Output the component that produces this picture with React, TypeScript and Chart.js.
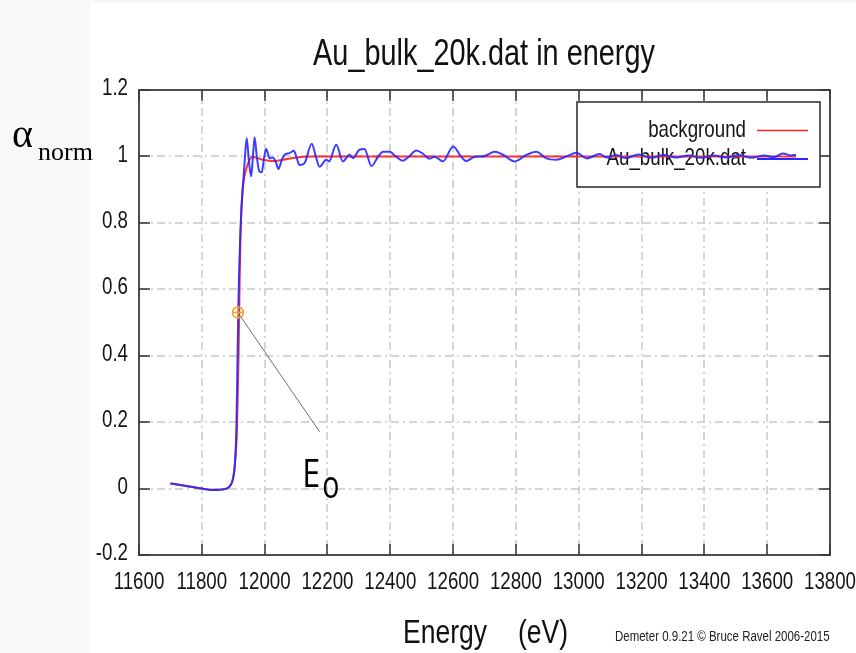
import React, { useEffect, useRef } from "react";
import { Chart, registerables } from "chart.js";

Chart.register(...registerables);

const TITLE = "Au_bulk_20k.dat in energy";
const X_TITLE_MAIN = "Energy";
const X_TITLE_UNIT = "(eV)";
const CREDIT = "Demeter 0.9.21 \u00A9 Bruce Ravel 2006-2015";
const Y_SYMBOL = "\u03B1";
const Y_SUB = "norm";
const SERIES_NAMES = ["background", "Au_bulk_20k.dat"];
const E0_LABEL = "E";
const E0_SUB = "o";

const xTicks = [11600, 11800, 12000, 12200, 12400, 12600, 12800, 13000, 13200, 13400, 13600, 13800];
const xTickLabels = ["11600", "11800", "12000", "12200", "12400", "12600", "12800", "13000", "13200", "13400", "13600", "13800"];
const yTicks = [-0.2, 0, 0.2, 0.4, 0.6, 0.8, 1, 1.2];
const yTickLabels = ["-0.2", "0", "0.2", "0.4", "0.6", "0.8", "1", "1.2"];

// Au_bulk_20k.dat (normalized mu)
const dataEnergy = [
  11700, 11750, 11800, 11835, 11870, 11888, 11898, 11905, 11910, 11913, 11916, 11919, 11922, 11925, 11930, 11936,
  11943, 11950, 11957, 11962, 11968, 11975, 11983, 11991, 11998, 12005, 12016, 12026, 12035, 12044, 12053, 12063,
  12079, 12093, 12101, 12111, 12127, 12150, 12163, 12175, 12196, 12205, 12228, 12249, 12270, 12281, 12302, 12318,
  12340, 12361, 12377, 12398, 12419, 12440, 12460, 12483, 12504, 12525, 12541, 12568, 12600, 12626, 12642, 12669,
  12695, 12733, 12759, 12796, 12834, 12865, 12897, 12929, 12961, 12993, 13025, 13067, 13089, 13120, 13150, 13190,
  13230, 13270, 13310, 13350, 13390, 13430, 13470, 13510, 13550, 13590, 13620, 13650, 13675, 13692,
];
const dataMu = [
  0.015, 0.008, 0.0, -0.004, -0.002, 0.006, 0.025, 0.07, 0.18, 0.35, 0.53, 0.66, 0.75, 0.82, 0.9, 0.98,
  1.055, 0.985, 0.94, 0.99, 1.058, 1.0, 0.955, 0.952, 0.995, 1.022, 0.994, 0.997, 0.985, 0.962, 0.985, 1.005,
  1.01, 1.017, 0.999, 0.974, 0.98, 1.038, 1.0, 0.969, 0.99, 0.985, 1.035, 0.985, 1.005, 0.995, 1.02, 1.022,
  0.971, 0.999, 1.014, 1.014, 0.999, 0.987, 1.0, 1.018, 1.008, 0.993, 0.999, 0.985, 1.03, 0.999, 0.986, 0.999,
  1.0, 1.014, 1.005, 0.985, 1.005, 1.014, 0.994, 0.99, 1.0, 1.011, 0.994, 1.007, 0.997, 1.004, 0.995, 1.006,
  0.996, 1.004, 0.997, 1.003, 0.996, 1.003, 0.997, 1.004, 0.996, 1.003, 0.998, 1.009, 1.003, 1.005,
];

// background
const bkgEnergy = [
  11700, 11750, 11800, 11835, 11870, 11888, 11898, 11905, 11912, 11917, 11920, 11923, 11926, 11930, 11941, 11962,
  11994, 12026, 12058, 12100, 12150, 12400, 12800, 13200, 13692,
];
const bkgMu = [
  0.015, 0.008, 0.0, -0.004, -0.002, 0.006, 0.025, 0.07, 0.18, 0.4, 0.6, 0.76, 0.84, 0.9, 0.96, 0.998,
  0.99, 0.986, 0.99, 0.997, 1.0, 1.0, 1.0, 1.0, 1.0,
];

// E0 marker and label anchor (data coordinates)
const e0Point = { x: 11915, y: 0.53 };
const e0LineEnd = { x: 12175, y: 0.171 };
const e0TextAnchor = { x: 12120, y: 0.006 };

const FONT = '"Liberation Sans", Arial, sans-serif';
const SQUEEZE = 0.78;

function drawText(ctx: CanvasRenderingContext2D, text: string, x: number, y: number, font: string, align: CanvasTextAlign, baseline: CanvasTextBaseline, sx: number, color: string) {
  ctx.save();
  ctx.translate(x, y);
  ctx.scale(sx, 1);
  ctx.font = font;
  ctx.textAlign = align;
  ctx.textBaseline = baseline;
  ctx.fillStyle = color;
  ctx.fillText(text, 0, 0);
  ctx.restore();
}

const framePlugin = {
  id: "frame",
  beforeDraw(chart: any) {
    const ctx = chart.ctx as CanvasRenderingContext2D;
    ctx.save();
    ctx.fillStyle = "#ffffff";
    ctx.fillRect(0, 0, chart.width, chart.height);
    ctx.fillStyle = "#f8f8f8";
    ctx.fillRect(0, 0, 90, chart.height);
    ctx.fillRect(90, 0, chart.width - 90, 3);
    ctx.restore();
  },
  beforeDatasetsDraw(chart: any) {
    const ctx = chart.ctx as CanvasRenderingContext2D;
    const xs = chart.scales.x;
    const ys = chart.scales.y;
    const { left, right, top, bottom } = chart.chartArea;
    ctx.save();
    // grid
    ctx.strokeStyle = "#c8c8c8";
    ctx.lineWidth = 1.5;
    ctx.setLineDash([8, 4, 2, 4]);
    xTicks.forEach((v) => {
      const px = Math.round(xs.getPixelForValue(v));
      if (px <= left + 1 || px >= right - 1) return;
      ctx.beginPath();
      ctx.moveTo(px, top);
      ctx.lineTo(px, bottom);
      ctx.stroke();
    });
    yTicks.forEach((v) => {
      const py = Math.round(ys.getPixelForValue(v));
      if (py <= top + 1 || py >= bottom - 1) return;
      ctx.beginPath();
      ctx.moveTo(left, py);
      ctx.lineTo(right, py);
      ctx.stroke();
    });
    ctx.setLineDash([]);
    // tick marks
    ctx.strokeStyle = "#333333";
    ctx.lineWidth = 1.5;
    const T = 11;
    xTicks.forEach((v) => {
      const px = Math.round(xs.getPixelForValue(v));
      ctx.beginPath();
      ctx.moveTo(px, bottom);
      ctx.lineTo(px, bottom - T);
      ctx.moveTo(px, top);
      ctx.lineTo(px, top + T);
      ctx.stroke();
    });
    yTicks.forEach((v) => {
      const py = Math.round(ys.getPixelForValue(v));
      ctx.beginPath();
      ctx.moveTo(left, py);
      ctx.lineTo(left + T, py);
      ctx.moveTo(right, py);
      ctx.lineTo(right - T, py);
      ctx.stroke();
    });
    // border
    ctx.strokeStyle = "#3a3a3a";
    ctx.lineWidth = 1.8;
    ctx.strokeRect(left, top, right - left, bottom - top);

    // tick labels
    xTicks.forEach((v, i) => {
      const px = xs.getPixelForValue(v);
      drawText(ctx, xTickLabels[i], px, bottom + 27, "24px " + FONT, "center", "middle", SQUEEZE, "#151515");
    });
    yTicks.forEach((v, i) => {
      const py = ys.getPixelForValue(v);
      drawText(ctx, yTickLabels[i], left - 11, py - 1.5, "24px " + FONT, "right", "middle", SQUEEZE, "#151515");
    });

    // legend box
    const bx = 577, by = 102, bw = 243, bh = 85;
    ctx.fillStyle = "#ffffff";
    ctx.fillRect(bx, by, bw, bh);
    ctx.strokeStyle = "#2a2a2a";
    ctx.lineWidth = 1.5;
    ctx.strokeRect(bx, by, bw, bh);
    drawText(ctx, SERIES_NAMES[0], 746, 130, "24px " + FONT, "right", "middle", SQUEEZE, "#151515");
    drawText(ctx, SERIES_NAMES[1], 746, 158, "24px " + FONT, "right", "middle", SQUEEZE, "#151515");
    ctx.strokeStyle = "#ff2020";
    ctx.lineWidth = 1.5;
    ctx.beginPath();
    ctx.moveTo(757, 130.5);
    ctx.lineTo(808, 130.5);
    ctx.stroke();
    ctx.strokeStyle = "#2828ff";
    ctx.lineWidth = 2;
    ctx.beginPath();
    ctx.moveTo(757, 159);
    ctx.lineTo(808, 159);
    ctx.stroke();
    ctx.restore();
  },
  afterDraw(chart: any) {
    const ctx = chart.ctx as CanvasRenderingContext2D;
    const xs = chart.scales.x;
    const ys = chart.scales.y;
    ctx.save();
    // title
    drawText(ctx, TITLE, 484, 55, "37px " + FONT, "center", "middle", SQUEEZE, "#111111");
    // x axis title
    drawText(ctx, X_TITLE_MAIN, 403, 643, "34px " + FONT, "left", "alphabetic", SQUEEZE, "#111111");
    drawText(ctx, X_TITLE_UNIT, 518, 643, "34px " + FONT, "left", "alphabetic", SQUEEZE, "#111111");
    // credit
    drawText(ctx, CREDIT, 615, 641, "14px " + FONT, "left", "alphabetic", 0.82, "#222222");
    // y label
    drawText(ctx, Y_SYMBOL, 12, 147, '40px "Liberation Serif", serif', "left", "alphabetic", 1, "#000000");
    drawText(ctx, Y_SUB, 38, 160, '26px "Liberation Serif", serif', "left", "alphabetic", 1, "#000000");

    // E0 annotation
    const ex = xs.getPixelForValue(e0Point.x);
    const ey = ys.getPixelForValue(e0Point.y);
    const lx = xs.getPixelForValue(e0LineEnd.x);
    const ly = ys.getPixelForValue(e0LineEnd.y);
    ctx.strokeStyle = "#707070";
    ctx.lineWidth = 1;
    ctx.beginPath();
    ctx.moveTo(ex + 2, ey + 3);
    ctx.lineTo(lx, ly);
    ctx.stroke();
    ctx.strokeStyle = "#f0a030";
    ctx.lineWidth = 1.5;
    ctx.beginPath();
    ctx.arc(ex, ey, 5.5, 0, Math.PI * 2);
    ctx.moveTo(ex - 5.5, ey);
    ctx.lineTo(ex + 5.5, ey);
    ctx.moveTo(ex, ey - 5.5);
    ctx.lineTo(ex, ey + 5.5);
    ctx.stroke();
    const tx = xs.getPixelForValue(e0TextAnchor.x);
    const ty = ys.getPixelForValue(e0TextAnchor.y);
    drawText(ctx, E0_LABEL, tx, ty, '38px "Open Sans", sans-serif', "left", "alphabetic", 0.85, "#000000");
    drawText(ctx, E0_SUB, tx + 20, ty + 11, '38px "Open Sans", sans-serif', "left", "alphabetic", 0.75, "#000000");
    ctx.restore();
  },
};

export default function App() {
  const ref = useRef<HTMLCanvasElement | null>(null);
  useEffect(() => {
    if (!ref.current) return;
    const chart = new Chart(ref.current, {
      type: "line",
      data: {
        datasets: [
          {
            label: SERIES_NAMES[1],
            data: dataEnergy.map((e, i) => ({ x: e, y: dataMu[i] })),
            borderColor: "rgba(40,40,255,0.9)",
            borderWidth: 2,
            pointRadius: 0,
            cubicInterpolationMode: "monotone",
            order: 0,
          },
          {
            label: SERIES_NAMES[0],
            data: bkgEnergy.map((e, i) => ({ x: e, y: bkgMu[i] })),
            borderColor: "rgba(255,30,30,0.9)",
            borderWidth: 2,
            pointRadius: 0,
            cubicInterpolationMode: "monotone",
            order: 1,
          },
        ],
      },
      options: {
        responsive: false,
        animation: false,
        layout: { padding: { left: 0, top: 90, right: 26, bottom: 0 } },
        plugins: { legend: { display: false }, title: { display: false }, tooltip: { enabled: false } },
        scales: {
          x: {
            type: "linear",
            min: 11600,
            max: 13800,
            grid: { display: false },
            border: { display: false },
            ticks: { display: false },
            afterBuildTicks: (s: any) => {
              s.ticks = xTicks.map((v) => ({ value: v }));
            },
            afterFit: (s: any) => {
              s.height = 98;
            },
          },
          y: {
            type: "linear",
            min: -0.2,
            max: 1.2,
            grid: { display: false },
            border: { display: false },
            ticks: { display: false },
            afterBuildTicks: (s: any) => {
              s.ticks = yTicks.map((v) => ({ value: v }));
            },
            afterFit: (s: any) => {
              s.width = 139;
            },
          },
        },
      },
      plugins: [framePlugin],
    } as any);
    return () => chart.destroy();
  }, []);
  return (
    <div style={{ position: "fixed", left: 0, top: 0, width: 856, height: 653, background: "#fff" }}>
      <canvas ref={ref} width={856} height={653} style={{ display: "block", width: 856, height: 653 }} />
    </div>
  );
}
